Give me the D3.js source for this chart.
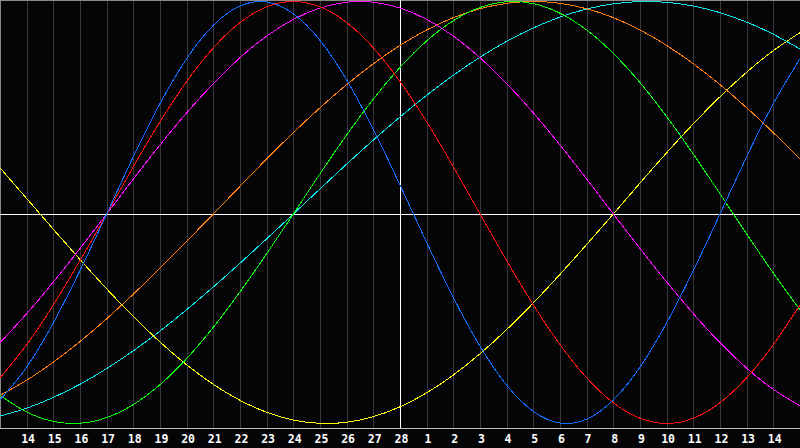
<!DOCTYPE html>
<html>
<head>
<meta charset="utf-8">
<script src="https://cdn.jsdelivr.net/npm/d3@7"></script>
<style>
  html, body { margin: 0; padding: 0; background: #050508; }
  svg { display: block; }
</style>
</head>
<body>
<svg id="chart" width="800" height="448"></svg>
<script>
// day labels, Feb 14 .. Mar 14 (gridlines at day index 1..29)
const dayLabels = ["14", "15", "16", "17", "18", "19", "20", "21", "22", "23", "24", "25", "26", "27", "28",
  "1", "2", "3", "4", "5", "6", "7", "8", "9", "10", "11", "12", "13", "14"];
const todayIndex = 15;

// values at day index 0..30
const physical = [-0.8879, -0.7308, -0.5196, -0.2698, 0, 0.2698, 0.5196, 0.7308, 0.8879, 0.9791, 0.9977,
  0.9423, 0.8170, 0.6311, 0.3984, 0.1362, -0.1362, -0.3984, -0.6311, -0.8170, -0.9423, -0.9977,
  -0.9791, -0.8879, -0.7308, -0.5196, -0.2698, 0, 0.2698, 0.5196, 0.7308];
const emotional = [-0.7818, -0.6235, -0.4339, -0.2225, 0, 0.2225, 0.4339, 0.6235, 0.7818, 0.9010, 0.9749,
  1, 0.9749, 0.9010, 0.7818, 0.6235, 0.4339, 0.2225, 0, -0.2225, -0.4339, -0.6235,
  -0.7818, -0.9010, -0.9749, -1, -0.9749, -0.9010, -0.7818, -0.6235, -0.4339];
const intuitive = [-0.6142, -0.4759, -0.3247, -0.1646, 0, 0.1646, 0.3247, 0.4759, 0.6142, 0.7357, 0.8372,
  0.9158, 0.9694, 0.9966, 0.9966, 0.9694, 0.9158, 0.8372, 0.7357, 0.6142, 0.4759, 0.3247,
  0.1646, 0, -0.1646, -0.3247, -0.4759, -0.6142, -0.7357, -0.8372, -0.9158];
const intellectual = [-0.8660, -0.9450, -0.9898, -0.9989, -0.9718, -0.9096, -0.8146, -0.6901, -0.5406, -0.3717, -0.1893,
  0, 0.1893, 0.3717, 0.5406, 0.6901, 0.8146, 0.9096, 0.9718, 0.9989, 0.9898, 0.9450,
  0.8660, 0.7557, 0.6182, 0.4582, 0.2817, 0.0951, -0.0951, -0.2817, -0.4582];
const spiritual = [-0.9646, -0.9267, -0.8757, -0.8125, -0.7378, -0.6528, -0.5586, -0.4566, -0.3482, -0.2349, -0.1183,
  0, 0.1183, 0.2349, 0.3482, 0.4566, 0.5586, 0.6528, 0.7378, 0.8125, 0.8757, 0.9267,
  0.9646, 0.9890, 0.9996, 0.9960, 0.9786, 0.9473, 0.9028, 0.8456, 0.7765];
const aesthetic = [0.2174, 0.0730, -0.0730, -0.2174, -0.3572, -0.4894, -0.6112, -0.7199, -0.8133, -0.8893, -0.9464,
  -0.9834, -0.9993, -0.9940, -0.9675, -0.9203, -0.8536, -0.7687, -0.6673, -0.5518, -0.4245, -0.2881,
  -0.1456, 0, 0.1456, 0.2881, 0.4245, 0.5518, 0.6673, 0.7687, 0.8536];
const awareness = [-0.8660, -0.7934, -0.7071, -0.6088, -0.5, -0.3827, -0.2588, -0.1305, 0, 0.1305, 0.2588,
  0.3827, 0.5, 0.6088, 0.7071, 0.7934, 0.8660, 0.9239, 0.9659, 0.9914, 1, 0.9914,
  0.9659, 0.9239, 0.8660, 0.7934, 0.7071, 0.6088, 0.5, 0.3827, 0.2588];

const series = [
  { name: "spiritual", values: spiritual, color: "#10e8f0" },
  { name: "aesthetic", values: aesthetic, color: "#ffff10" },
  { name: "awareness", values: awareness, color: "#ff8010" },
  { name: "intellectual", values: intellectual, color: "#10ff10" },
  { name: "intuitive", values: intuitive, color: "#ff10ff" },
  { name: "emotional", values: emotional, color: "#ff1010" },
  { name: "physical", values: physical, color: "#1070ff" }
];

const width = 800;
const plotHeight = 428;

const x = d3.scaleLinear().domain([0, 30]).range([0, width]);
const y = d3.scaleLinear().domain([-1, 0, 1]).range([423.5, 214, 1.5]);

const svg = d3.select("#chart");

// vertical day gridlines
svg.append("g")
  .selectAll("line")
  .data(dayLabels.map((d, i) => i + 1).filter(i => i !== todayIndex))
  .enter()
  .append("line")
  .attr("x1", d => Math.round(x(d)) + 0.5)
  .attr("x2", d => Math.round(x(d)) + 0.5)
  .attr("y1", 0)
  .attr("y2", plotHeight)
  .attr("stroke", "#38383c")
  .attr("shape-rendering", "crispEdges");

// frame top / left
svg.append("path")
  .attr("d", `M0.5,${plotHeight} V0.5 H${width}`)
  .attr("fill", "none")
  .attr("stroke", "#8a8a8a")
  .attr("shape-rendering", "crispEdges");

// zero line and today line
svg.append("line")
  .attr("x1", 0).attr("x2", width)
  .attr("y1", Math.round(y(0)) + 0.5).attr("y2", Math.round(y(0)) + 0.5)
  .attr("stroke", "#ffffff")
  .attr("shape-rendering", "crispEdges");

svg.append("line")
  .attr("x1", Math.round(x(todayIndex)) + 0.5).attr("x2", Math.round(x(todayIndex)) + 0.5)
  .attr("y1", 0).attr("y2", plotHeight)
  .attr("stroke", "#ffffff")
  .attr("shape-rendering", "crispEdges");

// curves
const line = d3.line()
  .x((d, i) => x(i))
  .y(d => y(d))
  .curve(d3.curveNatural);

svg.append("g")
  .selectAll("path")
  .data(series)
  .enter()
  .append("path")
  .attr("d", s => line(s.values))
  .attr("fill", "none")
  .attr("stroke", s => s.color)
  .attr("stroke-width", 1)
  .attr("shape-rendering", "crispEdges");

// x axis
const xAxis = d3.axisBottom(x)
  .tickValues(dayLabels.map((d, i) => i + 1))
  .tickFormat((d, i) => dayLabels[i])
  .tickSize(0)
  .tickPadding(7);

const axisG = svg.append("g")
  .attr("transform", `translate(0,${plotHeight})`)
  .call(xAxis);

axisG.select(".domain")
  .attr("d", `M0,0.5H${width}`)
  .attr("stroke", "#c0c0c0")
  .attr("shape-rendering", "crispEdges");

axisG.selectAll("text")
  .attr("dx", "0.08em")
  .attr("fill", "#ffffff")
  .attr("font-family", "DejaVu Sans Mono, monospace")
  .attr("font-weight", "bold")
  .attr("font-size", 11.5);
</script>
</body>
</html>
